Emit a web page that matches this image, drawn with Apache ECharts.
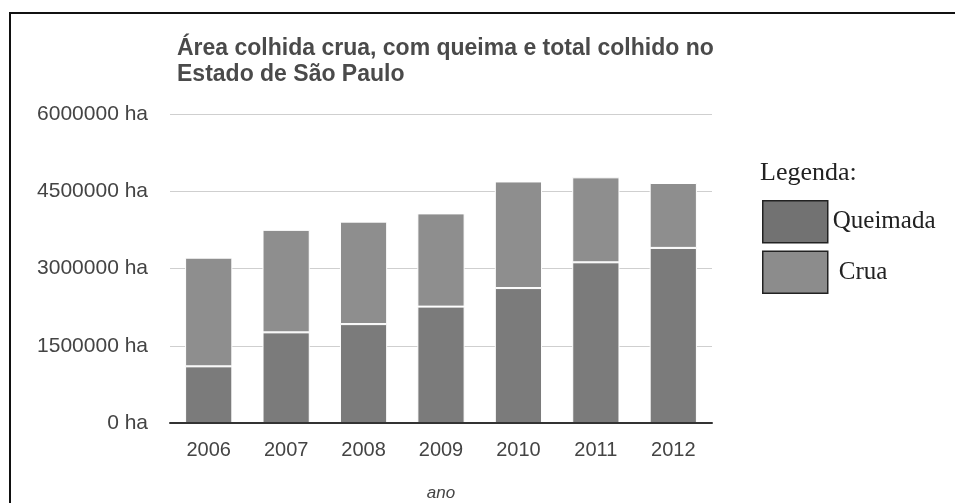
<!DOCTYPE html>
<html>
<head>
<meta charset="utf-8">
<script src="https://cdn.jsdelivr.net/npm/echarts@6/dist/echarts.min.js"></script>
<style>
  html, body { margin: 0; padding: 0; background: #fff; }
  #chart { width: 955px; height: 503px; }
</style>
</head>
<body>
<div id="chart"></div>
<script>
// Harvested sugarcane area in São Paulo state, by year (hectares)
const anos = ['2006', '2007', '2008', '2009', '2010', '2011', '2012'];
const queimada = [1100000, 1760000, 1920000, 2260000, 2620000, 3120000, 3400000];
const crua = [2110000, 1990000, 1990000, 1810000, 2070000, 1650000, 1260000];
const yTicks = [0, 1500000, 3000000, 4500000, 6000000];

const sans = '"Liberation Sans", Arial, sans-serif';
const serif = '"Liberation Serif", "Times New Roman", serif';

const chart = echarts.init(document.getElementById('chart'), null, { renderer: 'canvas' });

chart.setOption({
  backgroundColor: '#ffffff',
  animation: false,
  title: {
    text: 'Área colhida crua, com queima e total colhido no\nEstado de São Paulo',
    left: 172,
    top: 31,
    textStyle: {
      fontFamily: sans,
      fontSize: 23,
      fontWeight: 'bold',
      color: '#4a4a4a',
      lineHeight: 26
    }
  },
  legend: {
    orient: 'vertical',
    left: 762,
    top: 200,
    padding: 0,
    itemWidth: 65,
    itemHeight: 42,
    itemGap: 7,
    icon: 'rect',
    selectedMode: false,
    textStyle: { fontFamily: serif, fontSize: 25, color: '#222' },
    data: [
      { name: 'Queimada', itemStyle: { color: '#727272', borderColor: '#222', borderWidth: 1.5 } },
      { name: 'Crua', itemStyle: { color: '#8c8c8c', borderColor: '#222', borderWidth: 1.5 },
        textStyle: { padding: [0, 0, 0, 6] } }
    ]
  },
  graphic: [
    {
      type: 'rect',
      shape: { x: 10, y: 13, width: 1000, height: 600 },
      style: { fill: 'none', stroke: '#111', lineWidth: 2 },
      z: 10
    },
    {
      type: 'text',
      left: 760,
      top: 160,
      style: { text: 'Legenda:', font: '26px ' + serif, fill: '#222' }
    }
  ],
  grid: { left: 170, right: 243, top: 114, bottom: 80, outerBoundsMode: 'none' },
  xAxis: {
    type: 'category',
    data: anos,
    z: 5,
    name: 'ano',
    nameLocation: 'middle',
    nameGap: 62,
    nameTextStyle: { fontFamily: sans, fontSize: 17, fontStyle: 'italic', color: '#444' },
    axisLine: { lineStyle: { color: '#333', width: 2 } },
    axisTick: { show: false },
    axisLabel: { fontFamily: sans, fontSize: 20, color: '#444', margin: 17 }
  },
  yAxis: {
    type: 'value',
    min: yTicks[0],
    max: yTicks[yTicks.length - 1],
    interval: yTicks[1] - yTicks[0],
    axisLine: { show: false },
    axisTick: { show: false },
    splitLine: { lineStyle: { color: '#cfcfcf', width: 1 } },
    axisLabel: {
      fontFamily: sans,
      fontSize: 21,
      color: '#444',
      margin: 22,
      formatter: v => v + ' ha'
    }
  },
  series: [
    {
      name: 'Queimada',
      type: 'bar',
      stack: 'total',
      data: queimada,
      barWidth: '61%',
      itemStyle: { color: '#7b7b7b', borderColor: '#ffffff', borderWidth: 1 }
    },
    {
      name: 'Crua',
      type: 'bar',
      stack: 'total',
      data: crua,
      barWidth: '61%',
      itemStyle: { color: '#8e8e8e', borderColor: '#ffffff', borderWidth: 1 }
    }
  ]
});
</script>
</body>
</html>
